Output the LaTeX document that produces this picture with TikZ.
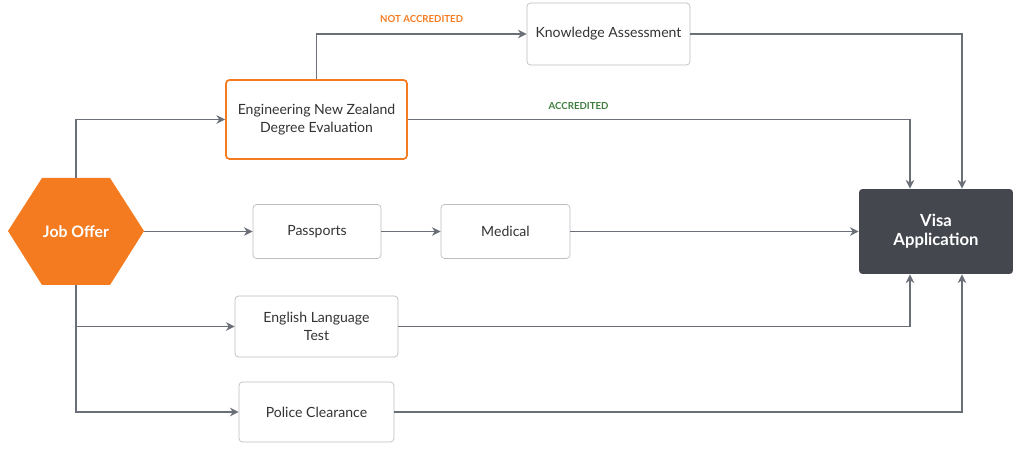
\documentclass[tikz,border=0pt]{standalone}
\usepackage{fontspec}
\setmainfont{Lato}
\usetikzlibrary{arrows.meta}
\definecolor{org}{HTML}{F47B20}
\definecolor{dk}{HTML}{45474F}
\definecolor{ln}{HTML}{6B6F78}
\definecolor{bd}{HTML}{BDBDBD}
\definecolor{grn}{HTML}{3E7D3E}
\tikzset{
 box/.style={draw=bd,rounded corners=2pt,fill=white,font=\fontsize{8}{10}\selectfont,text=black!80,align=center,inner sep=0pt},
 conn/.style={draw=ln,line width=0.7pt,-{Stealth[length=5pt,width=5pt]}},
 lbl/.style={font=\fontsize{5.5}{6}\selectfont\bfseries}
}
\begin{document}
\begin{tikzpicture}[x=0.02cm,y=-0.02cm]
\useasboundingbox (0,0) rectangle (1021,452);
\fill[org] (8,231)--(42,178)--(110,178)--(144,231)--(110,285)--(42,285)--cycle;
\node[minimum width=2.72cm,minimum height=2.14cm,inner sep=0pt,text=white,font=\fontsize{9}{11}\selectfont\bfseries] (job) at (76,231.5) {Job Offer};
\node[box,draw=org,line width=1pt,minimum width=3.62cm,minimum height=1.58cm] (eng) at (316.5,119.5) {Engineering New Zealand\\Degree Evaluation};
\node[box,minimum width=3.26cm,minimum height=1.24cm] (ka) at (608.5,34) {Knowledge Assessment};
\node[box,minimum width=2.56cm,minimum height=1.08cm] (pp) at (317,231.5) {Passports};
\node[box,minimum width=2.58cm,minimum height=1.08cm] (med) at (505.5,231.5) {Medical};
\node[box,minimum width=3.26cm,minimum height=1.22cm] (el) at (316.5,326.5) {English Language\\Test};
\node[box,minimum width=3.1cm,minimum height=1.2cm] (pc) at (316.5,412) {Police Clearance};
\node[fill=dk,rounded corners=2pt,minimum width=3.08cm,minimum height=1.7cm,text=white,align=center,font=\fontsize{9.5}{11}\selectfont\bfseries] (visa) at (936,231.5) {Visa\\Application};
\coordinate (br) at (76,285);
\draw[conn] (job.north) |- (eng.west);
\draw[conn] (job.east) -- (pp.west);
\draw[conn] (pp) -- (med);
\draw[conn] (med) -- (visa);
\draw[conn] (br) |- (el.west);
\draw[conn] (br) |- (pc.west);
\draw[conn] (eng.north) |- (ka.west) node[pos=0.75,above=3pt,lbl,text=org]{NOT ACCREDITED};
\draw[conn] (eng.east) -| ([xshift=-0.52cm]visa.north) node[pos=0.17,above=2pt,lbl,text=grn]{ACCREDITED};
\draw[conn] (ka.east) -| ([xshift=0.52cm]visa.north);
\draw[conn] (el.east) -| ([xshift=-0.52cm]visa.south);
\draw[conn] (pc.east) -| ([xshift=0.52cm]visa.south);
\end{tikzpicture}
\end{document}
